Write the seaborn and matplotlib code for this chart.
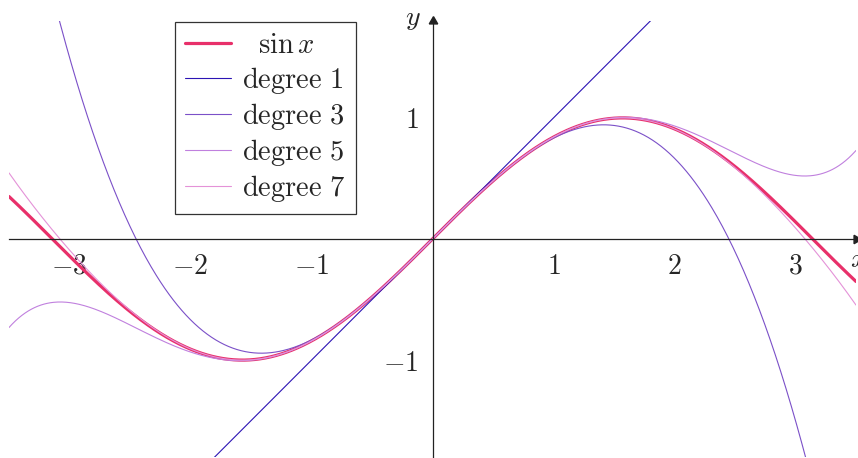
import math
import numpy as np
import pandas as pd
import seaborn as sns
import matplotlib
matplotlib.use("Agg")
import matplotlib.pyplot as plt

# Taylor polynomials of sin x around 0
degrees = [1, 3, 5, 7]
series_labels = [r"$\ \ \sin x$"] + [r"$\mathrm{degree\ %d}$" % d for d in degrees]
series_colors = ["#e8306a", "#2c14b4", "#7b50c8", "#c080de", "#e492d8"]
x_ticks = [-3, -2, -1, 1, 2, 3]
y_ticks = [-1, 1]
x_range = (-3.5, 3.5)
y_range = (-1.8, 1.8)


def taylor_sin(x, n):
    total = np.zeros_like(x)
    for k in range(0, n + 1):
        if k % 2 == 1:
            total += (-1) ** ((k - 1) // 2) * x ** k / math.factorial(k)
    return total


xs = np.linspace(x_range[0], x_range[1], 800)
frames = [pd.DataFrame({"x": xs, "y": np.sin(xs), "series": series_labels[0]})]
for d, lab in zip(degrees, series_labels[1:]):
    frames.append(pd.DataFrame({"x": xs, "y": taylor_sin(xs, d), "series": lab}))
df = pd.concat(frames, ignore_index=True)

sns.set_theme(style="white")
plt.rcParams["mathtext.fontset"] = "cm"
plt.rcParams["font.family"] = ["DejaVu Serif"]

fig = plt.figure(figsize=(8.58, 4.58), dpi=100)
ax = fig.add_axes([9 / 858, 1 / 458, 847 / 858, 436 / 458])

palette = dict(zip(series_labels, series_colors))
sns.lineplot(data=df, x="x", y="y", hue="series", palette=palette,
             hue_order=series_labels, ax=ax, sort=False, legend=False)
for line, lab in zip(ax.get_lines(), series_labels):
    line.set_linewidth(2.3 if lab == series_labels[0] else 0.8)
    line.set_label(lab)
ax.get_lines()[0].set_zorder(1.5)

ax.set_xlim(*x_range)
ax.set_ylim(*y_range)

# axes through the origin
for side in ["top", "right"]:
    ax.spines[side].set_visible(False)
ax.spines["left"].set_position(("data", 0))
ax.spines["bottom"].set_position(("data", 0))
for side in ["left", "bottom"]:
    ax.spines[side].set_color("#222222")
    ax.spines[side].set_linewidth(0.9)
ax.plot(1, 0, marker=(3, 0, -90), ms=7, color="#222222",
        transform=ax.get_yaxis_transform(), clip_on=False)
ax.plot(0, 1, marker=(3, 0, 0), ms=7, color="#222222",
        transform=ax.get_xaxis_transform(), clip_on=False)

ax.set_xticks(x_ticks)
ax.set_yticks(y_ticks)
ax.set_xticklabels([r"$%d$" % t for t in x_ticks])
ax.set_yticklabels([r"$%d$" % t for t in y_ticks])
ax.tick_params(axis="both", direction="inout", length=8, width=0.6,
               color="#555555", labelsize=20, pad=6)
ax.set_xlabel("")
ax.set_ylabel("")

ax.text(3.45, -0.06, r"$x$", fontsize=20, ha="left", va="top")
ax.text(-0.1, 1.82, r"$y$", fontsize=20, ha="right", va="center")

leg = ax.legend(loc="upper left", bbox_to_anchor=(165 / 847, 1.0),
                borderaxespad=0.05,
                fontsize=20.5, handlelength=1.6, labelspacing=0.18,
                borderpad=0.35, handletextpad=0.4, frameon=True,
                fancybox=False, edgecolor="black")
leg.get_frame().set_linewidth(0.9)

fig.savefig("out.png", dpi=100)
